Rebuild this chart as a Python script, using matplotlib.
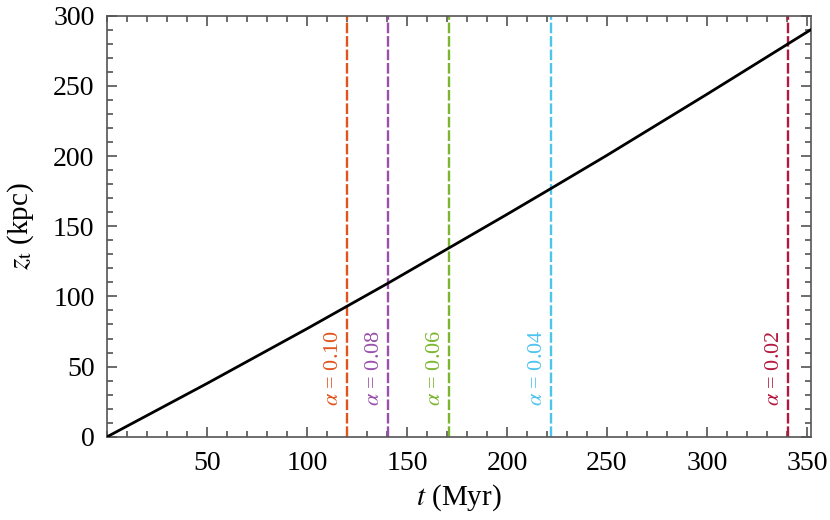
import matplotlib
matplotlib.use("Agg")
from matplotlib import pyplot as plt
from matplotlib.ticker import MultipleLocator

# z_t(t) curve
t_myr = [0, 50, 100, 120, 140, 171, 200, 221, 250, 300, 339, 352]
z_kpc = [0, 38, 77, 93, 109, 134.5, 158.4, 176, 200.5, 244, 278.5, 290]

# alpha markers
alphas = ["0.10", "0.08", "0.06", "0.04", "0.02"]
alpha_t = [120, 140.5, 171, 222, 340.5]
alpha_colors = ["#e1541e", "#9a4fad", "#7ab62e", "#4dc4ee", "#b5183e"]

plt.rcParams["font.family"] = ["Liberation Serif", "DejaVu Serif"]
plt.rcParams["mathtext.fontset"] = "stix"

fig = plt.figure(figsize=(8.3, 5.2), dpi=100)
ax = fig.add_axes([0.129, 0.16, 0.848, 0.81])

ax.plot(t_myr, z_kpc, color="black", linewidth=2.0, zorder=3)

for a, t, c in zip(alphas, alpha_t, alpha_colors):
    ax.axvline(t, color=c, linewidth=1.7, dashes=(4.5, 1.2), zorder=2)
    ax.text(t - 2.0, 22, r"$\alpha$ = " + a, color=c, rotation=90,
            ha="right", va="bottom", fontsize=16)

ax.set_xlim(0, 352)
ax.set_ylim(0, 300)
ax.xaxis.set_major_locator(MultipleLocator(50))
ax.xaxis.set_minor_locator(MultipleLocator(10))
ax.yaxis.set_major_locator(MultipleLocator(50))
ax.yaxis.set_minor_locator(MultipleLocator(10))
ax.set_xticks([50, 100, 150, 200, 250, 300, 350])

ax.tick_params(which="both", direction="in", top=True, right=True,
               colors="#444444", labelcolor="black", labelsize=20, width=1.1)
ax.tick_params(which="major", length=7.5, pad=9)
ax.tick_params(which="minor", length=4.5)
ax.tick_params(axis="x", which="major", pad=10)
for s in ax.spines.values():
    s.set_color("#555555")
    s.set_linewidth(1.2)

ax.set_xlabel(r"$t$ (Myr)", fontsize=21, labelpad=5)
ax.set_ylabel(r"$z_{\rm t}$ (kpc)", fontsize=21, labelpad=12)

fig.savefig("out.png", dpi=100, facecolor="white")
